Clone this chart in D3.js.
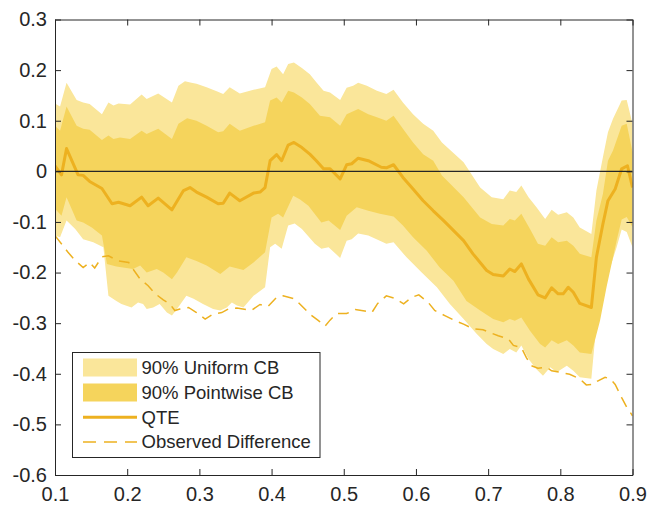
<!DOCTYPE html>
<html>
<head>
<meta charset="utf-8">
<script src="https://cdn.jsdelivr.net/npm/d3@7"></script>
<style>
  html, body { margin: 0; padding: 0; background: #fff; }
  svg { display: block; }
  text { font-family: "Liberation Sans", Arial, Helvetica, sans-serif; fill: #262626; }
</style>
</head>
<body>
<svg id="chart" width="649" height="509"></svg>
<script>
// Quantile treatment effect (QTE) with 90% confidence bands.

// QTE estimate
const qteQ = [0.100,0.109,0.116,0.132,0.139,0.148,0.165,0.179,0.188,0.204,0.220,0.229,0.243,0.262,0.278,0.287,0.296,0.310,0.326,0.333,0.342,0.356,0.375,0.384,0.391,0.398,0.407,0.414,0.423,0.431,0.442,0.453,0.462,0.472,0.481,0.495,0.504,0.511,0.520,0.534,0.552,0.559,0.569,0.582,0.596,0.610,0.624,0.638,0.666,0.679,0.698,0.707,0.721,0.730,0.737,0.746,0.756,0.769,0.779,0.788,0.797,0.804,0.811,0.818,0.827,0.843,0.850,0.859,0.866,0.876,0.885,0.893,0.900];
const qteV = [0.011,-0.007,0.045,-0.007,-0.008,-0.020,-0.034,-0.064,-0.061,-0.068,-0.051,-0.068,-0.053,-0.076,-0.038,-0.032,-0.041,-0.051,-0.064,-0.063,-0.043,-0.058,-0.043,-0.041,-0.032,0.021,0.033,0.021,0.052,0.057,0.047,0.034,0.021,0.005,0.005,-0.015,0.013,0.015,0.026,0.021,0.008,0.007,0.013,-0.012,-0.035,-0.058,-0.078,-0.097,-0.137,-0.163,-0.196,-0.204,-0.207,-0.193,-0.198,-0.183,-0.213,-0.244,-0.250,-0.230,-0.242,-0.242,-0.229,-0.239,-0.261,-0.269,-0.170,-0.104,-0.058,-0.035,0.005,0.011,-0.032];

// 90% uniform confidence band
const uniUpQ = [0.100,0.107,0.116,0.130,0.139,0.148,0.165,0.174,0.181,0.188,0.204,0.220,0.227,0.243,0.262,0.271,0.280,0.289,0.296,0.310,0.324,0.333,0.342,0.356,0.375,0.391,0.400,0.407,0.416,0.423,0.431,0.442,0.453,0.462,0.472,0.481,0.495,0.504,0.513,0.520,0.532,0.546,0.559,0.569,0.582,0.596,0.610,0.624,0.636,0.666,0.689,0.705,0.721,0.730,0.739,0.746,0.756,0.767,0.779,0.788,0.797,0.809,0.818,0.827,0.843,0.850,0.859,0.866,0.873,0.885,0.892,0.900];
const uniUpV = [0.134,0.128,0.175,0.141,0.136,0.133,0.113,0.136,0.130,0.134,0.132,0.152,0.143,0.154,0.136,0.169,0.178,0.175,0.173,0.166,0.158,0.153,0.166,0.154,0.161,0.166,0.202,0.207,0.192,0.212,0.215,0.204,0.192,0.176,0.159,0.156,0.141,0.165,0.169,0.175,0.169,0.159,0.153,0.161,0.136,0.113,0.094,0.080,0.057,0.018,-0.032,-0.051,-0.055,-0.038,-0.041,-0.028,-0.051,-0.071,-0.094,-0.076,-0.086,-0.081,-0.091,-0.111,-0.124,-0.038,0.028,0.077,0.104,0.140,0.141,0.094];
const uniLoQ = [0.100,0.107,0.116,0.128,0.139,0.153,0.167,0.174,0.185,0.192,0.206,0.215,0.222,0.227,0.236,0.245,0.255,0.262,0.269,0.282,0.292,0.305,0.319,0.329,0.338,0.345,0.352,0.361,0.375,0.391,0.398,0.405,0.414,0.423,0.432,0.442,0.460,0.469,0.479,0.495,0.504,0.511,0.520,0.534,0.550,0.559,0.569,0.587,0.608,0.629,0.647,0.666,0.684,0.698,0.707,0.721,0.730,0.739,0.746,0.756,0.767,0.776,0.786,0.795,0.809,0.818,0.827,0.843,0.850,0.859,0.869,0.878,0.885,0.892,0.900];
const uniLoV = [-0.127,-0.130,-0.097,-0.114,-0.134,-0.140,-0.150,-0.246,-0.256,-0.262,-0.269,-0.259,-0.262,-0.272,-0.269,-0.262,-0.279,-0.285,-0.272,-0.246,-0.252,-0.262,-0.272,-0.275,-0.269,-0.259,-0.265,-0.269,-0.246,-0.229,-0.150,-0.143,-0.153,-0.107,-0.103,-0.114,-0.143,-0.153,-0.150,-0.171,-0.137,-0.134,-0.123,-0.127,-0.137,-0.143,-0.140,-0.170,-0.200,-0.229,-0.262,-0.292,-0.321,-0.341,-0.351,-0.361,-0.351,-0.358,-0.344,-0.371,-0.391,-0.404,-0.387,-0.397,-0.384,-0.394,-0.407,-0.410,-0.302,-0.236,-0.190,-0.150,-0.115,-0.120,-0.150];

// 90% pointwise confidence band
const ptUpQ = [0.100,0.107,0.116,0.130,0.139,0.148,0.165,0.174,0.181,0.190,0.204,0.220,0.227,0.243,0.262,0.271,0.283,0.296,0.310,0.326,0.333,0.342,0.356,0.375,0.391,0.398,0.407,0.414,0.423,0.431,0.442,0.453,0.467,0.481,0.495,0.504,0.520,0.534,0.546,0.559,0.569,0.582,0.596,0.610,0.624,0.636,0.666,0.689,0.705,0.721,0.730,0.737,0.746,0.758,0.769,0.779,0.788,0.797,0.809,0.818,0.827,0.843,0.850,0.859,0.866,0.873,0.885,0.892,0.900];
const ptUpV = [0.090,0.080,0.128,0.090,0.084,0.082,0.062,0.071,0.064,0.067,0.064,0.080,0.074,0.084,0.064,0.094,0.105,0.100,0.090,0.077,0.079,0.094,0.080,0.090,0.097,0.140,0.146,0.136,0.159,0.156,0.146,0.133,0.110,0.107,0.090,0.113,0.123,0.113,0.107,0.100,0.110,0.084,0.057,0.034,0.021,-0.008,-0.051,-0.091,-0.104,-0.107,-0.094,-0.097,-0.084,-0.114,-0.143,-0.147,-0.130,-0.140,-0.137,-0.147,-0.163,-0.170,-0.097,-0.045,0.021,0.041,0.090,0.094,0.038];
const ptLoQ = [0.100,0.109,0.116,0.130,0.139,0.151,0.165,0.172,0.185,0.208,0.218,0.227,0.241,0.250,0.262,0.269,0.282,0.296,0.310,0.329,0.342,0.361,0.375,0.391,0.400,0.409,0.416,0.430,0.439,0.451,0.469,0.479,0.495,0.504,0.518,0.534,0.550,0.569,0.582,0.596,0.615,0.633,0.652,0.670,0.689,0.707,0.721,0.730,0.737,0.746,0.758,0.772,0.779,0.788,0.797,0.809,0.818,0.827,0.843,0.855,0.864,0.871,0.878,0.885,0.892,0.900];
const ptLoV = [-0.074,-0.088,-0.051,-0.097,-0.101,-0.111,-0.127,-0.183,-0.188,-0.193,-0.186,-0.200,-0.193,-0.200,-0.213,-0.200,-0.170,-0.177,-0.186,-0.203,-0.188,-0.195,-0.180,-0.160,-0.091,-0.084,-0.091,-0.048,-0.055,-0.068,-0.101,-0.097,-0.116,-0.088,-0.071,-0.078,-0.084,-0.089,-0.107,-0.130,-0.157,-0.190,-0.216,-0.256,-0.275,-0.292,-0.298,-0.292,-0.295,-0.289,-0.315,-0.341,-0.348,-0.334,-0.341,-0.334,-0.344,-0.358,-0.361,-0.295,-0.229,-0.183,-0.137,-0.095,-0.090,-0.110];

// Observed difference
const obsQ = [0.100,0.111,0.118,0.128,0.139,0.148,0.155,0.165,0.174,0.188,0.202,0.208,0.218,0.229,0.239,0.250,0.259,0.266,0.273,0.285,0.296,0.308,0.319,0.331,0.340,0.352,0.372,0.384,0.395,0.407,0.416,0.432,0.444,0.453,0.465,0.474,0.481,0.490,0.504,0.516,0.529,0.539,0.547,0.559,0.571,0.583,0.594,0.604,0.617,0.626,0.640,0.654,0.666,0.679,0.693,0.705,0.714,0.728,0.735,0.746,0.753,0.760,0.769,0.781,0.788,0.799,0.813,0.827,0.836,0.846,0.851,0.862,0.869,0.876,0.885,0.892,0.900];
const obsV = [-0.127,-0.147,-0.160,-0.176,-0.190,-0.180,-0.191,-0.169,-0.167,-0.177,-0.180,-0.193,-0.213,-0.226,-0.242,-0.254,-0.262,-0.275,-0.272,-0.269,-0.279,-0.292,-0.282,-0.279,-0.272,-0.270,-0.275,-0.263,-0.267,-0.249,-0.246,-0.252,-0.269,-0.282,-0.295,-0.306,-0.294,-0.281,-0.281,-0.273,-0.276,-0.279,-0.261,-0.246,-0.251,-0.262,-0.249,-0.244,-0.259,-0.275,-0.285,-0.295,-0.302,-0.311,-0.313,-0.320,-0.325,-0.331,-0.344,-0.348,-0.368,-0.384,-0.389,-0.387,-0.394,-0.397,-0.401,-0.410,-0.422,-0.421,-0.415,-0.407,-0.410,-0.421,-0.447,-0.466,-0.483];

// Axis ticks
const xTicks = [0.1, 0.2, 0.3, 0.4, 0.5, 0.6, 0.7, 0.8, 0.9];
const yTicks = [-0.6, -0.5, -0.4, -0.3, -0.2, -0.1, 0, 0.1, 0.2, 0.3];

// Legend entries
const legendLabels = ["90% Uniform CB", "90% Pointwise CB", "QTE", "Observed Difference"];

(function draw() {
  const colUniform = "#FAE69A";
  const colPointwise = "#F5D45C";
  const colLine = "#EDB120";
  const colAxis = "#262626";

  const svg = d3.select("#chart");
  const pLeft = 55, pRight = 632.5, pTop = 19.5, pBottom = 475;

  const x = d3.scaleLinear().domain([0.1, 0.9]).range([pLeft, pRight]);
  const y = d3.scaleLinear().domain([-0.6, 0.3]).range([pBottom, pTop]);

  svg.append("defs").append("clipPath").attr("id", "plotclip")
    .append("rect").attr("x", pLeft).attr("y", pTop)
    .attr("width", pRight - pLeft).attr("height", pBottom - pTop);

  const plot = svg.append("g").attr("clip-path", "url(#plotclip)");

  const pts = (qs, vs) => qs.map((q, i) => [q, vs[i]]);
  const line = d3.line().x(d => x(d[0])).y(d => y(d[1]));

  function band(upQ, upV, loQ, loV) {
    return line(pts(upQ, upV).concat(pts(loQ, loV).reverse())) + "Z";
  }

  plot.append("path")
    .attr("d", band(uniUpQ, uniUpV, uniLoQ, uniLoV))
    .attr("fill", colUniform);

  plot.append("path")
    .attr("d", band(ptUpQ, ptUpV, ptLoQ, ptLoV))
    .attr("fill", colPointwise);

  plot.append("path")
    .attr("d", line(pts(qteQ, qteV)))
    .attr("fill", "none")
    .attr("stroke", colLine)
    .attr("stroke-width", 3)
    .attr("stroke-linejoin", "round");

  plot.append("path")
    .attr("d", line(pts(obsQ, obsV)))
    .attr("fill", "none")
    .attr("stroke", colLine)
    .attr("stroke-width", 1.5)
    .attr("stroke-dasharray", "11,7");

  // zero reference line
  plot.append("line")
    .attr("x1", pLeft).attr("x2", pRight)
    .attr("y1", y(0)).attr("y2", y(0))
    .attr("stroke", colAxis)
    .attr("stroke-width", 1.3);

  // Axes: box with inward ticks on all sides
  const tickLen = 6;
  const fontSize = 20;

  const gx = svg.append("g").attr("transform", `translate(0,${pBottom})`)
    .call(d3.axisBottom(x).tickValues(xTicks).tickSizeInner(-tickLen).tickSizeOuter(0).tickPadding(12));
  const gxt = svg.append("g").attr("transform", `translate(0,${pTop})`)
    .call(d3.axisTop(x).tickValues(xTicks).tickFormat("").tickSizeInner(-tickLen).tickSizeOuter(0));
  const gy = svg.append("g").attr("transform", `translate(${pLeft},0)`)
    .call(d3.axisLeft(y).tickValues(yTicks).tickSizeInner(-tickLen).tickSizeOuter(0).tickPadding(8));
  const gyr = svg.append("g").attr("transform", `translate(${pRight},0)`)
    .call(d3.axisRight(y).tickValues(yTicks).tickFormat("").tickSizeInner(-tickLen).tickSizeOuter(0));

  [gx, gxt, gy, gyr].forEach(g => {
    g.select(".domain").attr("stroke", colAxis).attr("stroke-width", 1);
    g.selectAll(".tick line").attr("stroke", colAxis).attr("stroke-width", 1);
    g.selectAll("text").attr("font-size", fontSize).attr("fill", colAxis)
      .style("font-family", '"Liberation Sans", Arial, sans-serif');
  });
  gy.selectAll("text").text(d => d === 0 ? "0" : d3.format(".1f")(d).replace("\u2212", "-"));
  gx.selectAll("text").text(d => d3.format(".1f")(d));

  // Legend
  const lg = svg.append("g");
  const lgX = 72.5, lgY = 352.5, lgW = 247.5, lgH = 105;
  lg.append("rect").attr("x", lgX).attr("y", lgY).attr("width", lgW).attr("height", lgH)
    .attr("fill", "#fff").attr("stroke", colAxis).attr("stroke-width", 1);

  const rowY = [367.5, 392.5, 417.3, 442];
  const sx1 = 83, sx2 = 137, tx = 141.5;

  lg.append("rect").attr("x", sx1).attr("y", rowY[0] - 9).attr("width", sx2 - sx1).attr("height", 18)
    .attr("fill", colUniform);
  lg.append("rect").attr("x", sx1).attr("y", rowY[1] - 9).attr("width", sx2 - sx1).attr("height", 18)
    .attr("fill", colPointwise);
  lg.append("line").attr("x1", sx1).attr("x2", sx2).attr("y1", rowY[2]).attr("y2", rowY[2])
    .attr("stroke", colLine).attr("stroke-width", 3);
  lg.append("line").attr("x1", sx1).attr("x2", sx2).attr("y1", rowY[3]).attr("y2", rowY[3])
    .attr("stroke", colLine).attr("stroke-width", 1.5).attr("stroke-dasharray", "13,8");

  lg.selectAll("text.lab").data(legendLabels).enter().append("text")
    .attr("class", "lab")
    .attr("x", tx).attr("y", (d, i) => rowY[i])
    .attr("dy", "0.35em")
    .attr("font-size", 18.5)
    .text(d => d);
})();
</script>
</body>
</html>
